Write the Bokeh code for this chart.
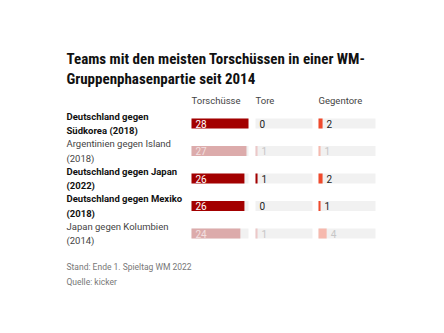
from bokeh.plotting import figure
from bokeh.models import Range1d, ColumnDataSource
from bokeh.core.properties import value
from bokeh.embed import file_html
from bokeh.resources import INLINE

# ---- data ----
title_lines = ["Teams mit den meisten Torschüssen in einer WM-",
               "Gruppenphasenpartie seit 2014"]
teams = ["Deutschland gegen\nSüdkorea (2018)",
         "Argentinien gegen Island\n(2018)",
         "Deutschland gegen Japan\n(2022)",
         "Deutschland gegen Mexiko\n(2018)",
         "Japan gegen Kolumbien\n(2014)"]
highlight = [True, False, True, True, False]
columns = ["Torschüsse", "Tore", "Gegentore"]
torschuesse = [28, 27, 26, 26, 24]
tore = [0, 1, 1, 0, 1]
gegentore = [2, 1, 2, 1, 4]
notes = ["Stand: Ende 1. Spieltag WM 2022", "Quelle: kicker"]

# ---- layout / style ----
W, H = 444, 333
SCALE_MAX = 28
PX = 57 / SCALE_MAX
COL_X = [191, 255, 318]
LEFT = 66
ROW_Y0, ROW_H, BAR_H = 123, 27.5, 10
BODY = "Roboto"
TITLE_FONT = "Liberation Sans Narrow, Roboto Condensed, DejaVu Sans Condensed, sans-serif"

p = figure(width=W, height=H, x_range=Range1d(0, W), y_range=Range1d(H, 0),
           output_backend="svg", toolbar_location=None, min_border=0)
p.axis.visible = False
p.xgrid.visible = False
p.ygrid.visible = False
p.outline_line_color = None
p.background_fill_color = "white"
p.border_fill_color = "white"

n = len(teams)
row_y = [ROW_Y0 + i * ROW_H for i in range(n)]

# title
p.text(x=[LEFT, LEFT], y=[58, 78], text=title_lines, text_font=value(TITLE_FONT),
       text_font_style="bold", text_font_size="15px", text_color="#111111",
       text_baseline="middle", text_align="left")

# column headers
p.text(x=COL_X, y=[100] * 3, text=columns, text_font=value(BODY), text_font_size="9.5px",
       text_color="#444444", text_baseline="middle", text_align="left")

# row labels
for i in range(n):
    p.text(x=[LEFT], y=[row_y[i]], text=[teams[i]], text_font=value(BODY),
           text_font_size="9.5px", text_font_style="bold" if highlight[i] else "normal",
           text_color="#111111" if highlight[i] else "#444444",
           text_baseline="middle", text_align="left", text_line_height=1.3)

# bars
series = [torschuesse, tore, gegentore]
hi_col = ["#a30000", "#a30000", "#f04a2c"]
lo_col = ["#dcabab", "#ecc8c8", "#f6b9ae"]
for k, vals in enumerate(series):
    name = f"c{k}"
    p.extra_x_ranges[name] = Range1d(-COL_X[k] / PX, (W - COL_X[k]) / PX)
    src = ColumnDataSource(dict(
        y=row_y, v=vals, full=[SCALE_MAX] * n, lab=[str(v) for v in vals],
        c=[hi_col[k] if h else lo_col[k] for h in highlight],
        tc=(["#ffffff" if h else "#f3e0e0" for h in highlight] if k == 0 else
            ["#222222" if h else "#c6c6c6" for h in highlight]),
    ))
    p.hbar(y="y", left=0, right="full", height=BAR_H, fill_color="#f1f1f1",
           line_color=None, source=src, x_range_name=name)
    p.hbar(y="y", left=0, right="v", height=BAR_H, fill_color="c",
           line_color=None, source=src, x_range_name=name)
    if k == 0:
        p.text(x=0, y="y", text="lab", x_offset=4, text_color="tc", source=src,
               x_range_name=name, text_font=value(BODY), text_font_size="10px",
               text_baseline="middle", text_align="left")
    else:
        p.text(x="v", y="y", text="lab", x_offset=4, text_color="tc", source=src,
               x_range_name=name, text_font=value(BODY), text_font_size="10px",
               text_baseline="middle", text_align="left")

# notes
p.text(x=[LEFT, LEFT], y=[266, 281], text=notes, text_font=value(BODY),
       text_font_size="8.5px", text_color="#777777", text_baseline="middle",
       text_align="left")

open("out.html", "w").write(file_html(p, INLINE))
